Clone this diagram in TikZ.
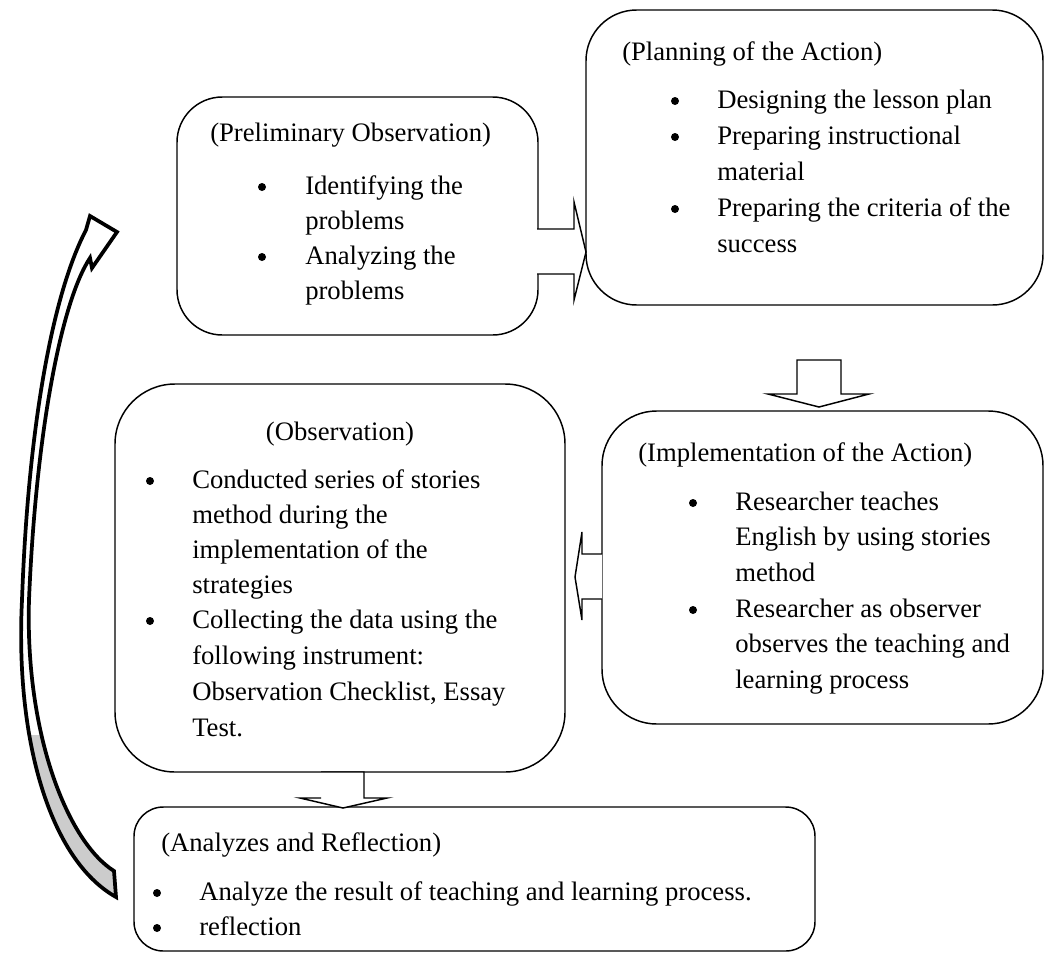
\documentclass[tikz,border=0pt]{standalone}
\usepackage{fontspec}
\setmainfont{Liberation Serif}
\usetikzlibrary{fit}
\begin{document}
\begin{tikzpicture}[x=0.75pt,y=-0.75pt,
  box/.style={draw, line width=1.1pt, inner sep=0pt},
  txt/.style={anchor=base west, inner sep=0pt, font=\fontsize{20}{24}\selectfont},
  ctxt/.style={anchor=base, inner sep=0pt, font=\fontsize{20}{24}\selectfont},
  dot/.style={circle, fill=black, inner sep=0pt, minimum size=6pt},
  blockarrow/.style={draw, fill=white, line width=1.1pt, line join=miter},
  curvearrow/.style={line width=2.8pt, line join=miter}]
\useasboundingbox (0,0) rectangle (1045,953);

% boxes
\node[box, rounded corners=34pt, fit={(177,97) (538,335)}] (prelim) {};
\node[box, rounded corners=38pt, fit={(586,10) (1043,305)}] (plan) {};
\node[box, rounded corners=41pt, fit={(602,411) (1043,724)}] (impl) {};
\node[box, rounded corners=45pt, fit={(115,384) (565,772)}] (obs) {};
\node[box, rounded corners=22pt, fit={(134,807) (815,951)}] (anal) {};

% block arrows
\draw[blockarrow] (537,229) -- (574,229) -- (574,202) -- (586,252) -- (574,300) -- (574,274) -- (537,274);
\draw[blockarrow] (797,360) -- (841,360) -- (841,394) -- (869,394) -- (819,407) -- (768,394) -- (797,394) -- cycle;
\draw[blockarrow] (602,554) -- (582,554) -- (582,532) -- (575,577) -- (582,620) -- (582,599) -- (602,599);
\draw[blockarrow] (321,772) -- (364,772) -- (364,798) -- (387,798) -- (343,808) -- (300,798) -- (321,798);

% curved return arrow
\def\cshape{(116,897) .. controls (50,860) and (15,740) .. (22,600) .. controls (28,430) and (52,295) .. (86,230) -- (90,216) -- (117,232) -- (92,268) -- (90,258) .. controls (62,300) and (36,430) .. (29,600) .. controls (25,735) and (68,842) .. (114,871) -- cycle}
\fill[white] \cshape;
\begin{scope}
\clip (0,735) rectangle (200,953);
\fill[black!20] \cshape;
\end{scope}
\draw[curvearrow] \cshape;

% Preliminary Observation
\node[txt] (t1) at (210,141) {(Preliminary Observation)};
\node[dot] (b1a) at (262,187) {};
\node[dot] (b1b) at (262,257) {};
\node[txt] (t1a) at (305,194) {Identifying the};
\node[txt] (t1b) at (305,229) {problems};
\node[txt] (t1c) at (305,264) {Analyzing the};
\node[txt] (t1d) at (305,299) {problems};

% Planning of the Action
\node[txt] (t2) at (622,60) {(Planning of the Action)};
\node[dot] (b2a) at (675,101) {};
\node[dot] (b2b) at (675,137) {};
\node[dot] (b2c) at (675,209) {};
\node[txt] (t2a) at (717,108) {Designing the lesson plan};
\node[txt] (t2b) at (717,144) {Preparing instructional};
\node[txt] (t2c) at (717,180) {material};
\node[txt] (t2d) at (717,216) {Preparing the criteria of the};
\node[txt] (t2e) at (717,252) {success};

% Implementation of the Action
\node[txt] (t3) at (638,461) {(Implementation of the Action)};
\node[dot] (b3a) at (693,503) {};
\node[dot] (b3b) at (693,610) {};
\node[txt] (t3a) at (735,510) {Researcher teaches};
\node[txt] (t3b) at (735,545) {English by using stories};
\node[txt] (t3c) at (735,581) {method};
\node[txt] (t3d) at (735,617) {Researcher as observer};
\node[txt] (t3e) at (735,652) {observes the teaching and};
\node[txt] (t3f) at (735,688) {learning process};

% Observation
\node[ctxt] (t4) at (340,440) {(Observation)};
\node[dot] (b4a) at (150,481) {};
\node[dot] (b4b) at (150,621) {};
\node[txt] (t4a) at (192,488) {Conducted series of stories};
\node[txt] (t4b) at (192,523) {method during the};
\node[txt] (t4c) at (192,558) {implementation of the};
\node[txt] (t4d) at (192,593) {strategies};
\node[txt] (t4e) at (192,628) {Collecting the data using the};
\node[txt] (t4f) at (192,664) {following instrument:};
\node[txt] (t4g) at (192,700) {Observation Checklist, Essay};
\node[txt] (t4h) at (192,736) {Test.};

% Analyzes and Reflection
\node[txt] (t5) at (161,851) {(Analyzes and Reflection)};
\node[dot] (b5a) at (157,893) {};
\node[dot] (b5b) at (157,928) {};
\node[txt] (t5a) at (199,900) {Analyze the result of teaching and learning process.};
\node[txt] (t5b) at (199,935) {reflection};
\end{tikzpicture}
\end{document}
